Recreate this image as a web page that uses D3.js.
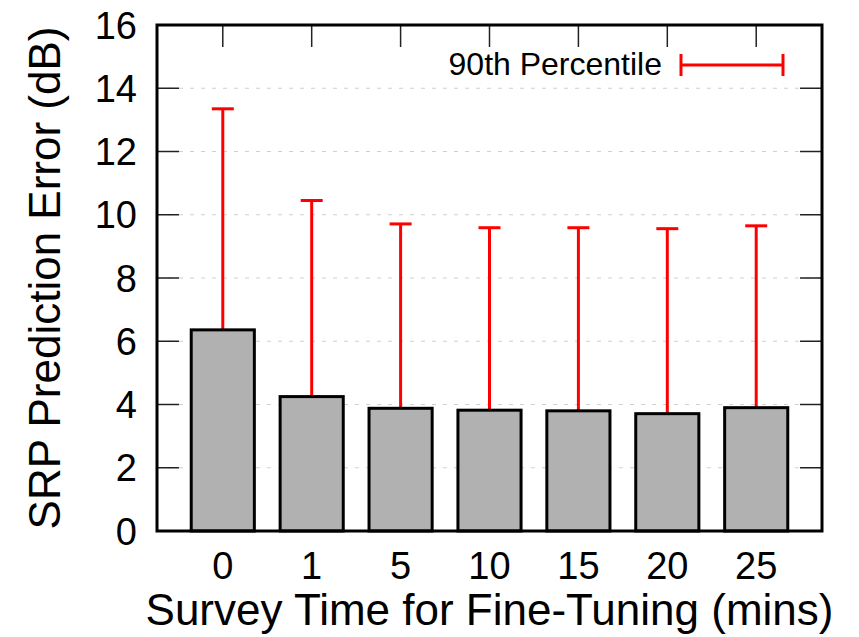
<!DOCTYPE html>
<html>
<head>
<meta charset="utf-8">
<script src="https://cdn.jsdelivr.net/npm/d3@7"></script>
<style>
  body { margin: 0; background: #fff; }
  text { font-family: "Liberation Sans", Arial, sans-serif; fill: #000; }
</style>
</head>
<body>
<svg id="chart" width="859" height="637"></svg>
<script>
'use strict';

/* Data */
var categories = ["0", "1", "5", "10", "15", "20", "25"];
var meanErr = [6.36, 4.25, 3.88, 3.82, 3.80, 3.71, 3.90];
var p90Err = [13.35, 10.45, 9.71, 9.59, 9.59, 9.56, 9.65];
var yTicks = [0, 2, 4, 6, 8, 10, 12, 14, 16];

var svg = d3.select("#chart"),
    pLeft = 157, pRight = 822, pTop = 25, pBottom = 531;

var x = d3.scaleBand()
      .domain(categories)
      .range([pLeft, pRight])
      .paddingInner(0.29)
      .paddingOuter(0.385),
    y = d3.scaleLinear().domain([0, 16]).range([pBottom, pTop]);

var cx = function(d) { return x(d) + x.bandwidth() / 2; };

/* dashed grid */
svg.append("g")
  .selectAll("line")
  .data(yTicks.filter(function(d) { return d > 0 && d < 16; }))
  .enter().append("line")
  .attr("x1", pLeft).attr("x2", pRight)
  .attr("y1", function(d) { return y(d); })
  .attr("y2", function(d) { return y(d); })
  .style("stroke", "#cfcfcf")
  .style("stroke-width", 1)
  .style("stroke-dasharray", "4,7");

/* inward ticks on all four sides */
var tickLen = 22;
var ticks = svg.append("g").style("stroke", "#222").style("stroke-width", 1.5);
yTicks.forEach(function(d) {
  ticks.append("line").attr("x1", pLeft).attr("x2", pLeft + tickLen).attr("y1", y(d)).attr("y2", y(d));
  ticks.append("line").attr("x1", pRight).attr("x2", pRight - tickLen).attr("y1", y(d)).attr("y2", y(d));
});
categories.forEach(function(d) {
  ticks.append("line").attr("x1", cx(d)).attr("x2", cx(d)).attr("y1", pTop).attr("y2", pTop + tickLen);
  ticks.append("line").attr("x1", cx(d)).attr("x2", cx(d)).attr("y1", pBottom).attr("y2", pBottom - tickLen);
});

/* 90th percentile error bars */
var eb = svg.append("g").style("stroke", "#ff0000").style("stroke-width", 3);
categories.forEach(function(d, i) {
  eb.append("line").attr("x1", cx(d)).attr("x2", cx(d))
    .attr("y1", y(meanErr[i])).attr("y2", y(p90Err[i]));
  eb.append("line").attr("x1", cx(d) - 11).attr("x2", cx(d) + 11)
    .attr("y1", y(p90Err[i])).attr("y2", y(p90Err[i]));
});

/* bars */
svg.append("g")
  .selectAll("rect")
  .data(categories)
  .enter().append("rect")
  .attr("x", function(d) { return x(d); })
  .attr("width", x.bandwidth())
  .attr("y", function(d, i) { return y(meanErr[i]); })
  .attr("height", function(d, i) { return pBottom - y(meanErr[i]); })
  .style("fill", "#b1b1b1")
  .style("stroke", "#000")
  .style("stroke-width", 3);

/* frame */
svg.append("rect")
  .attr("x", pLeft).attr("y", pTop)
  .attr("width", pRight - pLeft).attr("height", pBottom - pTop)
  .style("fill", "none").style("stroke", "#000").style("stroke-width", 3);

/* tick labels */
svg.append("g").selectAll("text")
  .data(yTicks)
  .enter().append("text")
  .attr("x", pLeft - 20)
  .attr("y", function(d) { return y(d); })
  .attr("dy", "0.36em")
  .attr("text-anchor", "end")
  .style("font-size", "38px")
  .text(function(d) { return d; });

svg.append("g").selectAll("text")
  .data(categories)
  .enter().append("text")
  .attr("x", cx)
  .attr("y", 579)
  .attr("text-anchor", "middle")
  .style("font-size", "38px")
  .text(function(d) { return d; });

/* axis titles */
svg.append("text")
  .attr("x", (pLeft + pRight) / 2)
  .attr("y", 625)
  .attr("text-anchor", "middle")
  .style("font-size", "44px")
  .text("Survey Time for Fine-Tuning (mins)");

svg.append("text")
  .attr("transform", "translate(60," + ((pTop + pBottom) / 2) + ") rotate(-90)")
  .attr("text-anchor", "middle")
  .style("font-size", "44px")
  .text("SRP Prediction Error (dB)");

/* legend */
var lg = svg.append("g");
lg.append("text")
  .attr("x", 662).attr("y", 75)
  .attr("text-anchor", "end")
  .style("font-size", "32px")
  .text("90th Percentile");
var lgLine = lg.append("g").style("stroke", "#ff0000").style("stroke-width", 3);
lgLine.append("line").attr("x1", 681).attr("x2", 783).attr("y1", 65).attr("y2", 65);
lgLine.append("line").attr("x1", 681).attr("x2", 681).attr("y1", 54).attr("y2", 76);
lgLine.append("line").attr("x1", 783).attr("x2", 783).attr("y1", 54).attr("y2", 76);
</script>
</body>
</html>
